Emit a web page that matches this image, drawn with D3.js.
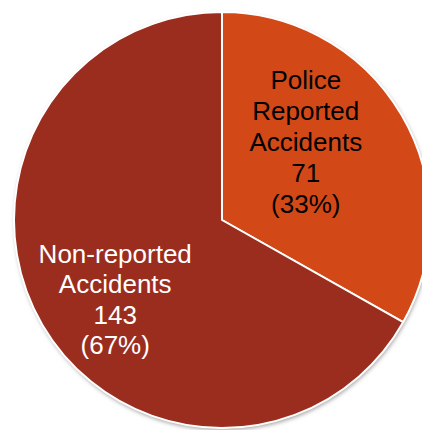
<!DOCTYPE html>
<html>
<head>
<meta charset="utf-8">
<script src="https://cdn.jsdelivr.net/npm/d3@7"></script>
<style>
  html, body { margin: 0; padding: 0; background: #fff; overflow: hidden; }
  svg { display: block; }
</style>
</head>
<body>
<script>
// data
const categories = ['Police Reported Accidents', 'Non-reported Accidents'];
const labelLines = [['Police', 'Reported', 'Accidents'], ['Non-reported', 'Accidents']];
const values = [71, 143];
const colors = ['#D34817', '#9B2D1F'];
const textColors = ['#000000', '#ffffff'];

const width = 422, height = 430;
const cx = 222, cy = 220, R = 208;

const svg = d3.select('body').append('svg')
    .attr('width', width)
    .attr('height', height);

// soft grey shadow round the pie
const filter = svg.append('defs').append('filter')
    .attr('id', 'shadow')
    .attr('x', '-10%').attr('y', '-10%')
    .attr('width', '120%').attr('height', '120%');
filter.append('feDropShadow')
    .attr('dx', 1)
    .attr('dy', 2)
    .attr('stdDeviation', 2)
    .attr('flood-color', '#777')
    .attr('flood-opacity', 0.7);

const total = d3.sum(values);
const pie = d3.pie().sort(null).value(d => d);
const arcs = pie(values);

const arc = d3.arc().innerRadius(0).outerRadius(R);
const labelArc = d3.arc().innerRadius(R * 0.55).outerRadius(R * 0.55);

const g = svg.append('g').attr('transform', `translate(${cx},${cy})`);

g.append('circle')
    .attr('r', R)
    .attr('fill', colors[1])
    .style('filter', 'url(#shadow)');

g.selectAll('path.slice')
    .data(arcs)
    .enter().append('path')
    .attr('class', 'slice')
    .attr('d', arc)
    .attr('fill', (d, i) => colors[i])
    .attr('stroke', '#fff')
    .attr('stroke-width', 2)
    .attr('stroke-linejoin', 'round');

// labels sit a little off the centroid, the way the original puts them
const nudges = [[-15, -19], [-8, 23]];
const lineH = [31, 30.5];

const labels = g.selectAll('text.lbl')
    .data(arcs)
    .enter().append('text')
    .attr('class', 'lbl')
    .attr('text-anchor', 'middle')
    .attr('font-family', '"Liberation Sans", Arial, sans-serif')
    .attr('font-size', 26)
    .attr('fill', (d, i) => textColors[i])
    .attr('transform', (d, i) => {
        const c = labelArc.centroid(d);
        return `translate(${c[0] + nudges[i][0]},${c[1] + nudges[i][1]})`;
    });

labels.each(function(d, i) {
    const lines = labelLines[i].concat([String(values[i]), `(${Math.round(values[i] / total * 100)}%)`]);
    const t = d3.select(this);
    const y0 = -((lines.length - 1) * lineH[i]) / 2 + 8;
    lines.forEach((s, k) => {
        t.append('tspan')
            .attr('x', 0)
            .attr('y', y0 + k * lineH[i])
            .text(s);
    });
});
</script>
</body>
</html>
